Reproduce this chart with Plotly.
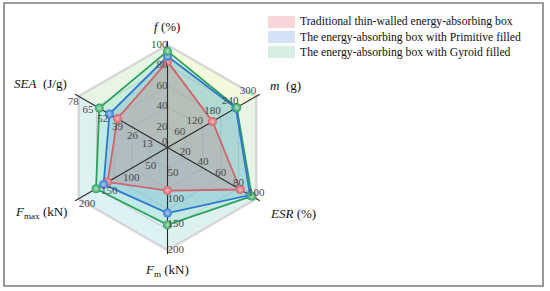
import plotly.graph_objects as go

# ---------------- data ----------------
axis_names = ["<i>f</i> (%)", "<i>m</i>  (g)", "<i>ESR</i> (%)",
              "<i>F</i><sub>m</sub> (kN)", "<i>F</i><sub>max</sub> (kN)", "<i>SEA</i>  (J/g)"]
axis_max = [100, 300, 100, 200, 200, 78]
axis_ticks = [
    [0, 20, 40, 60, 80, 100],
    [60, 120, 180, 240, 300],
    [20, 40, 60, 80, 100],
    [50, 100, 150, 200],
    [50, 100, 150, 200],
    [13, 26, 39, 52, 65, 78],
]
series_names = ["Traditional thin-walled energy-absorbing box",
                "The energy-absorbing box with Primitive filled",
                "The energy-absorbing box with Gyroid filled"]
traditional = [84, 152, 82, 84, 135, 44]
primitive = [89, 231, 93, 128, 144, 51]
gyroid = [94, 234, 95, 151, 161, 60]
series_values = [traditional, primitive, gyroid]

# ---------------- styles ----------------
line_colors = ["#d2626b", "#2f78d0", "#2aa05a"]
fill_colors = ["rgba(200,130,130,0.30)", "rgba(98,169,201,0.30)", "rgba(135,220,200,0.30)"]
marker_centers = ["#f3b8bb", "#b0cdf2", "#b5e6c5"]
legend_colors = ["#f8d5d8", "#d5e2f5", "#d6efe1"]
serif = "Liberation Serif, Times New Roman, serif"

n = len(axis_names)
angles = [i * 360 / n for i in range(n)]

fig = go.Figure()

# background sectors (approximate vertical gradient)
sector_colors = ["#f4f8dd", "#e8f5e4", "#ddf2f0", "#dcf2f5", "#ddf2f0", "#e8f5e4"]
for i in range(n):
    a0 = angles[i]
    a1 = angles[(i + 1) % n] if i + 1 < n else 360
    fig.add_trace(go.Scatterpolar(r=[0, 1, 1, 0], theta=[a0, a0, a1, a0], mode="lines",
                                  fill="toself", fillcolor=sector_colors[i],
                                  line=dict(width=0, color=sector_colors[i]),
                                  hoverinfo="skip", showlegend=False))

# grid rings
for k in range(1, 6):
    rr = k / 5
    fig.add_trace(go.Scatterpolar(r=[rr] * (n + 1), theta=angles + [angles[0]], mode="lines",
                                  line=dict(color="#d6d6d6" if k == 5 else "#c2c2c2",
                                            width=2.4 if k == 5 else 0.8),
                                  hoverinfo="skip", showlegend=False))

# series
for vals, name, lc, fc in zip(series_values[::-1], series_names[::-1],
                              line_colors[::-1], fill_colors[::-1]):
    rr = [v / m for v, m in zip(vals, axis_max)]
    fig.add_trace(go.Scatterpolar(r=rr + [rr[0]], theta=angles + [angles[0]], mode="lines",
                                  fill="toself", fillcolor=fc, line=dict(color=lc, width=1.8),
                                  name=name, showlegend=False, hoverinfo="skip"))

# axis lines
for a in angles:
    fig.add_trace(go.Scatterpolar(r=[0, 1.04], theta=[a, a], mode="lines",
                                  line=dict(color="#2b2b2b", width=1.1),
                                  hoverinfo="skip", showlegend=False))

# markers
for vals, lc, mc in zip(series_values, line_colors, marker_centers):
    rr = [v / m for v, m in zip(vals, axis_max)]
    fig.add_trace(go.Scatterpolar(r=rr, theta=angles, mode="markers",
                                  marker=dict(size=9, color=lc, line=dict(width=0),
                                              gradient=dict(type="radial", color=mc)),
                                  hoverinfo="skip", showlegend=False))

# tick labels
tick_pos = ["middle left", "top left", "top center", "middle right", "bottom right", "bottom left"]
for a, ticks, mx, pos in zip(angles, axis_ticks, axis_max, tick_pos):
    positions = ["top left" if (t == 0) else pos for t in ticks]
    fig.add_trace(go.Scatterpolar(r=[t / mx for t in ticks], theta=[a] * len(ticks), mode="text",
                                  text=[str(t) for t in ticks], textposition=positions,
                                  textfont=dict(family=serif, size=11, color="#4a4a4a"),
                                  hoverinfo="skip", showlegend=False))

# axis titles
title_pos = [(167, 26, "center"), (268, 85, "left"), (268, 213, "left"),
             (167, 270, "center"), (69, 212, "right"), (69, 84, "right")]
annotations = []
for name, (x, y, al) in zip(axis_names, title_pos):
    annotations.append(dict(x=x / 550, y=1 - y / 291, xref="paper", yref="paper", text=name,
                            showarrow=False, xanchor=al, yanchor="middle",
                            font=dict(family=serif, size=13, color="#111")))

# legend
shapes = []
for i, (name, col) in enumerate(zip(series_names, legend_colors)):
    yc = 22 + 15 * i
    shapes.append(dict(type="rect", xref="paper", yref="paper",
                       x0=268 / 550, x1=295 / 550, y0=1 - (yc + 6) / 291, y1=1 - (yc - 6) / 291,
                       fillcolor=col, line=dict(width=0)))
    annotations.append(dict(x=298 / 550, y=1 - yc / 291, xref="paper", yref="paper", text=name,
                            showarrow=False, xanchor="left", yanchor="middle",
                            font=dict(family=serif, size=11.7, color="#111")))

# frame
shapes.append(dict(type="rect", xref="paper", yref="paper", x0=4 / 550, x1=543 / 550,
                   y0=1 - 286 / 291, y1=1 - 3 / 291, line=dict(color="#7f7f7f", width=1.6)))

R = 1.1
rad_px = 102.5 * R
cx, cy = 167.5, 291 - 147.5
fig.update_layout(
    width=550, height=291, margin=dict(l=0, r=0, t=0, b=0),
    paper_bgcolor="white", plot_bgcolor="white",
    polar=dict(domain=dict(x=[(cx - rad_px) / 550, (cx + rad_px) / 550],
                           y=[(cy - rad_px) / 291, (cy + rad_px) / 291]),
               bgcolor="rgba(0,0,0,0)",
               radialaxis=dict(range=[0, R], visible=False),
               angularaxis=dict(visible=False, rotation=90, direction="clockwise")),
    annotations=annotations, shapes=shapes, showlegend=False,
)

fig.write_html("out.html", config={"displayModeBar": False},
               post_script="document.body.style.margin='0';document.body.style.padding='0';"
                           "document.body.style.overflow='hidden';")
